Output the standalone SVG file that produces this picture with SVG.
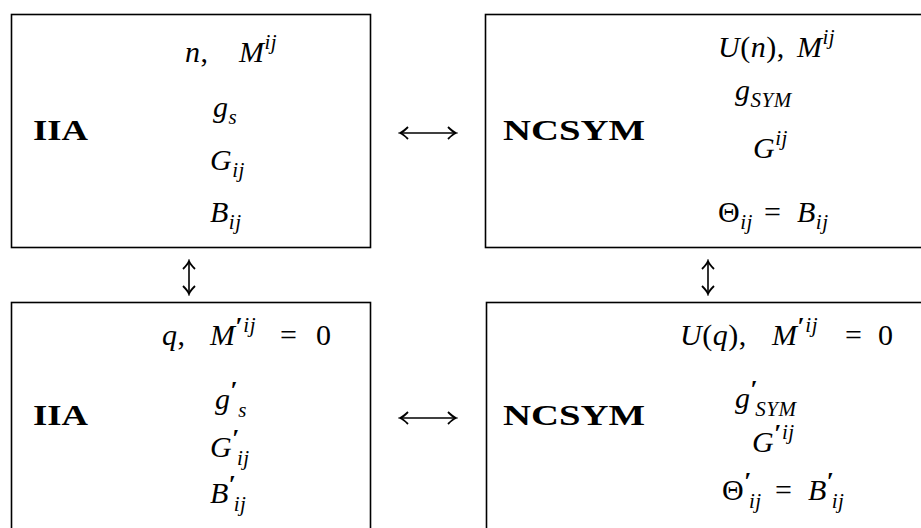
<svg xmlns="http://www.w3.org/2000/svg" width="921" height="528" viewBox="0 0 921 528">
<defs>
<style>
.box{fill:none;stroke:#000;stroke-width:1.6}
.m{font-family:"Liberation Serif","Times New Roman",serif;font-style:italic;font-size:30px;fill:#000;letter-spacing:0.5px}
.r{font-style:normal}
.s{font-size:21px}
.p{font-size:26px;font-style:normal;font-weight:bold}
.b{font-family:"Liberation Serif","Times New Roman",serif;font-weight:bold;font-size:29px;fill:#000}
.c{fill:none;stroke:#000;stroke-width:1.6}
</style>
<marker id="ah" viewBox="-9 -7 11 14" markerWidth="11" markerHeight="14" refX="0" refY="0" orient="auto-start-reverse" markerUnits="userSpaceOnUse">
<path d="M-8,-6 Q-3,-1 0,0 Q-3,1 -8,6" fill="none" stroke="#000" stroke-width="1.8"/>
</marker>
</defs>

<g id="iia-top">
<rect class="box" x="11.5" y="14.5" width="359" height="233"/>
<text class="b" x="33" y="140" textLength="55" lengthAdjust="spacingAndGlyphs">IIA</text>
<text class="m" x="185" y="62">n<tspan class="r">,</tspan></text>
<text class="m" x="239" y="62">M<tspan class="s" y="49">ij</tspan></text>
<text class="m" x="213" y="117">g<tspan class="s" y="124">s</tspan></text>
<text class="m" x="210" y="170">G<tspan class="s" y="177">ij</tspan></text>
<text class="m" x="210" y="222">B<tspan class="s" y="229">ij</tspan></text>
</g>

<g id="ncsym-top">
<rect class="box" x="485.5" y="14.5" width="445" height="233"/>
<text class="b" x="503" y="140" textLength="142" lengthAdjust="spacingAndGlyphs">NCSYM</text>
<text class="m" x="718" y="57">U<tspan class="r">(</tspan>n<tspan class="r">),</tspan></text>
<text class="m" x="797" y="57">M<tspan class="s" y="44">ij</tspan></text>
<text class="m" x="735" y="100">g<tspan class="s" y="107">SYM</tspan></text>
<text class="m" x="753" y="158">G<tspan class="s" y="145">ij</tspan></text>
<text class="m" x="718" y="222"><tspan class="r">Θ</tspan><tspan class="s" y="229">ij</tspan></text>
<text class="m r" x="764" y="222">=</text>
<text class="m" x="797" y="222">B<tspan class="s" y="229">ij</tspan></text>
</g>

<g id="iia-bottom">
<rect class="box" x="11.5" y="302.5" width="359" height="240"/>
<text class="b" x="33" y="425" textLength="55" lengthAdjust="spacingAndGlyphs">IIA</text>
<text class="m" x="162" y="345">q<tspan class="r">,</tspan></text>
<text class="m" x="210" y="345">M<tspan class="p" y="335">′</tspan><tspan class="s" y="332">ij</tspan></text>
<text class="m r" x="280" y="345">=</text>
<text class="m r" x="316" y="345">0</text>
<text class="m" x="215" y="409">g<tspan class="p" y="399">′</tspan><tspan class="s" dx="0" y="417">s</tspan></text>
<text class="m" x="210" y="457">G<tspan class="p" y="447">′</tspan><tspan class="s" dx="-3" y="465">ij</tspan></text>
<text class="m" x="210" y="503">B<tspan class="p" y="493">′</tspan><tspan class="s" dx="-3" y="511">ij</tspan></text>
</g>

<g id="ncsym-bottom">
<rect class="box" x="486.5" y="302.5" width="445" height="240"/>
<text class="b" x="503" y="425" textLength="142" lengthAdjust="spacingAndGlyphs">NCSYM</text>
<text class="m" x="680" y="345">U<tspan class="r">(</tspan>q<tspan class="r">),</tspan></text>
<text class="m" x="772" y="345">M<tspan class="p" y="335">′</tspan><tspan class="s" y="332">ij</tspan></text>
<text class="m r" x="845" y="345">=</text>
<text class="m r" x="878" y="345">0</text>
<text class="m" x="735" y="408">g<tspan class="p" y="398">′</tspan><tspan class="s" dx="-3" y="416">SYM</tspan></text>
<text class="m" x="752" y="452">G<tspan class="p" y="442">′</tspan><tspan class="s" y="439">ij</tspan></text>
<text class="m" x="722" y="500"><tspan class="r">Θ</tspan><tspan class="p" y="490">′</tspan><tspan class="s" dx="-3" y="508">ij</tspan></text>
<text class="m r" x="775" y="500">=</text>
<text class="m" x="808" y="500">B<tspan class="p" y="490">′</tspan><tspan class="s" dx="-3" y="508">ij</tspan></text>
</g>

<g id="connectors">
<line class="c" x1="400" y1="133" x2="456" y2="133" marker-start="url(#ah)" marker-end="url(#ah)"/>
<line class="c" x1="400" y1="418" x2="456" y2="418" marker-start="url(#ah)" marker-end="url(#ah)"/>
<line class="c" x1="189" y1="261" x2="189" y2="294" marker-start="url(#ah)" marker-end="url(#ah)"/>
<line class="c" x1="708" y1="261" x2="708" y2="294" marker-start="url(#ah)" marker-end="url(#ah)"/>
</g>
</svg>
